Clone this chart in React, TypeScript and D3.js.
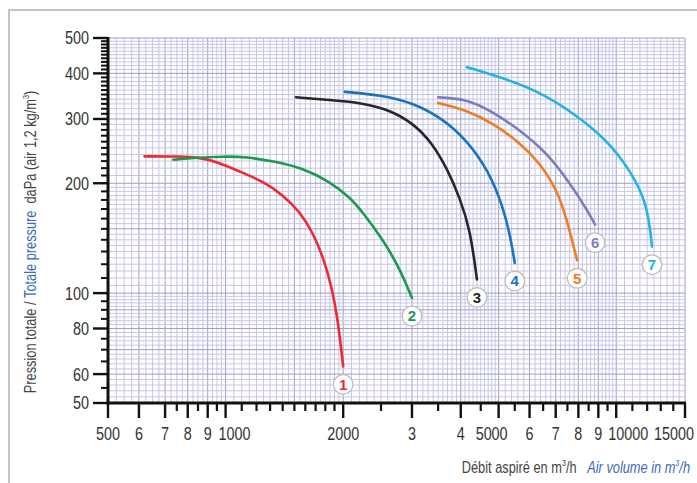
import React from "react";
import * as d3 from "d3";

// fan curves: [air volume m3/h, total pressure daPa]
const curve1: [number, number][] = [[620,237],[765,237],[860,235],[950,229],[1090,215],[1250,202],[1400,186],[1550,167],[1675,146],[1775,126],[1870,104],[1940,84],[2000,63]];
const curve2: [number, number][] = [[735,232],[845,235],[985,237],[1135,236],[1320,230],[1580,220],[1850,202],[2080,183],[2250,166],[2530,140],[2800,116],[3000,97]];
const curve3: [number, number][] = [[1515,344],[1850,338],[2250,332],[2640,317],[3020,292],[3380,258],[3710,217],[3980,182],[4230,149],[4400,109]];
const curve4: [number, number][] = [[2020,356],[2490,349],[3020,332],[3540,304],[4150,263],[4750,213],[5130,172],[5350,144],[5500,121]];
const curve5: [number, number][] = [[3500,332],[4150,317],[4840,292],[5670,258],[6380,227],[7050,192],[7480,159],[7940,123]];
const curve6: [number, number][] = [[3500,344],[4150,340],[4750,317],[5670,280],[6650,242],[7620,200],[8420,169],[8830,154]];
const curve7: [number, number][] = [[4150,416],[5040,391],[6380,356],[7750,312],[9470,263],[10850,217],[12000,177],[12350,134]];

const curveNames = ["1", "2", "3", "4", "5", "6", "7"];
const curveColors = ["#ee2a2e", "#1a9a4a", "#262626", "#1b72c0", "#f27b22", "#7b7dbf", "#22b2e6"];
const curves = [curve1, curve2, curve3, curve4, curve5, curve6, curve7];

const xMajorTicks = [500, 600, 700, 800, 900, 1000, 2000, 3000, 4000, 5000, 6000, 7000, 8000, 9000, 10000, 15000];
const xTickLabels = ["500", "6", "7", "8", "9", "1000", "2000", "3", "4", "5000", "6", "7", "8", "9", "10000", "15000"];
const xMinorTicks = [750, 850, 950, 1100, 1200, 1300, 1400, 1500, 1600, 1700, 1800, 1900, 2500, 3500, 4500, 5500, 6500, 7500, 8500, 9500, 11000, 12000, 13000, 14000];
const yMajorTicks = [50, 60, 80, 100, 200, 300, 400, 500];
const yTickLabels = ["50", "60", "80", "100", "200", "300", "400", "500"];

const W = 697;
const H = 483;
const FONT = "'Liberation Sans', Arial, sans-serif";
const NARROW = 0.8;

const x = d3.scaleLog().domain([500, 15000]).range([108, 685]);
const y = d3.scaleLog().domain([50, 500]).range([403, 38]);

// log-paper grid
const xGrid = [
  ...d3.range(500, 1000, 25),
  ...d3.range(1000, 2000, 50),
  ...d3.range(2000, 5000, 100),
  ...d3.range(5000, 10000, 200),
  ...d3.range(10000, 15001, 500),
];
const yGrid = [
  ...d3.range(50, 100, 2),
  ...d3.range(100, 200, 5),
  ...d3.range(200, 501, 10),
];
const yMinorTicks = [...d3.range(55, 100, 5), ...d3.range(110, 500, 10)].filter(v => !yMajorTicks.includes(v));

const xLabelShift: Record<string, number> = { "1000": 9, "5000": -7, "10000": 12, "15000": -11 };

const line = d3.line<[number, number]>()
  .x(d => x(d[0]))
  .y(d => y(d[1]))
  .curve(d3.curveBasis);

const isMajorX = (v: number) => xMajorTicks.includes(v) || v === 1500;
const isMajorY = (v: number) => [50, 60, 70, 80, 90, 100, 150, 200, 300, 400, 500].includes(v);

export default function App() {
  return (
    <svg width={W} height={H} style={{ position: "absolute", left: 0, top: 0, background: "#fff" }} fontFamily={FONT}>
      <rect width={W} height={H} fill="#fff" />
      {/* outer frame */}
      <path d={`M9,${H} V10 H${W}`} fill="none" stroke="#c4c4c4" strokeWidth={2} />

      {/* grid */}
      <g>
        {xGrid.map(v => (
          <line key={"gx" + v} x1={x(v)} x2={x(v)} y1={y(500)} y2={y(50)}
            stroke={isMajorX(v) ? "#9c9ccf" : "#c6c6e8"} strokeWidth={1} />
        ))}
        {yGrid.map(v => (
          <line key={"gy" + v} x1={x(500)} x2={x(15000)} y1={y(v)} y2={y(v)}
            stroke={isMajorY(v) ? "#9c9ccf" : "#c6c6e8"} strokeWidth={1} />
        ))}
      </g>

      {/* curves */}
      {curves.map((c, i) => (
        <path key={"c" + i} d={line(c) || ""} fill="none" stroke={curveColors[i]} strokeWidth={2.6} strokeLinecap="round" />
      ))}
      {curves.map((c, i) => {
        const last = c[c.length - 1];
        const cx = x(last[0]);
        const cy = y(last[1]) + 18;
        return (
          <g key={"l" + i}>
            <circle cx={cx} cy={cy} r={9.8} fill="#fff" stroke="#bdbdbd" strokeWidth={1.3} />
            <text x={cx} y={cy} dy="0.36em" textAnchor="middle" fontSize={15} fontWeight="bold"
              fill={curveColors[i]}>{curveNames[i]}</text>
          </g>
        );
      })}

      {/* axes */}
      <line x1={108} x2={108} y1={37} y2={404.5} stroke="#111" strokeWidth={3} />
      <line x1={106.5} x2={686} y1={403} y2={403} stroke="#111" strokeWidth={3} />
      {xMajorTicks.map(v => (
        <line key={"xt" + v} x1={x(v)} x2={x(v)} y1={403} y2={418} stroke="#111" strokeWidth={2.4} />
      ))}
      {xMinorTicks.map(v => (
        <line key={"xm" + v} x1={x(v)} x2={x(v)} y1={403} y2={411} stroke="#111" strokeWidth={2.2} />
      ))}
      {yMajorTicks.map(v => (
        <line key={"yt" + v} x1={93} x2={108} y1={y(v)} y2={y(v)} stroke="#111" strokeWidth={2.4} />
      ))}
      {yMinorTicks.map(v => (
        <line key={"ym" + v} x1={101} x2={108} y1={y(v)} y2={y(v)} stroke="#111" strokeWidth={2} />
      ))}
      {xMajorTicks.map((v, i) => (
        <text key={"xl" + v} transform={`translate(${x(v) + (xLabelShift[xTickLabels[i]] || 0)},440) scale(${NARROW},1)`}
          textAnchor="middle" fontSize={18} fill="#333">{xTickLabels[i]}</text>
      ))}
      {yMajorTicks.map((v, i) => (
        <text key={"yl" + v} transform={`translate(89,${y(v)}) scale(${NARROW},1)`} dy="0.36em"
          textAnchor="end" fontSize={18} fill="#333">{yTickLabels[i]}</text>
      ))}

      {/* axis titles */}
      <text transform={`translate(36,242) rotate(-90) scale(${NARROW},1)`} textAnchor="middle" fontSize={16} fill="#444">
        <tspan>Pression totale / </tspan>
        <tspan fill="#3d6bb8">Totale pressure</tspan>
        <tspan>{"\u00a0\u00a0daPa (air 1,2 kg/m"}</tspan>
        <tspan fontSize={9} dy={-7}>3</tspan>
        <tspan dy={7}>)</tspan>
      </text>
      <text transform={`translate(690,473) scale(${NARROW},1)`} textAnchor="end" fontSize={16} fill="#444">
        <tspan>Débit aspiré en m</tspan>
        <tspan fontSize={9} dy={-7}>3</tspan>
        <tspan dy={7}>{"/h\u00a0\u00a0\u00a0"}</tspan>
        <tspan fill="#3d6bb8" fontStyle="italic">Air volume in m</tspan>
        <tspan fill="#3d6bb8" fontStyle="italic" fontSize={9} dy={-7}>3</tspan>
        <tspan fill="#3d6bb8" fontStyle="italic" dy={7}>/h</tspan>
      </text>
    </svg>
  );
}
